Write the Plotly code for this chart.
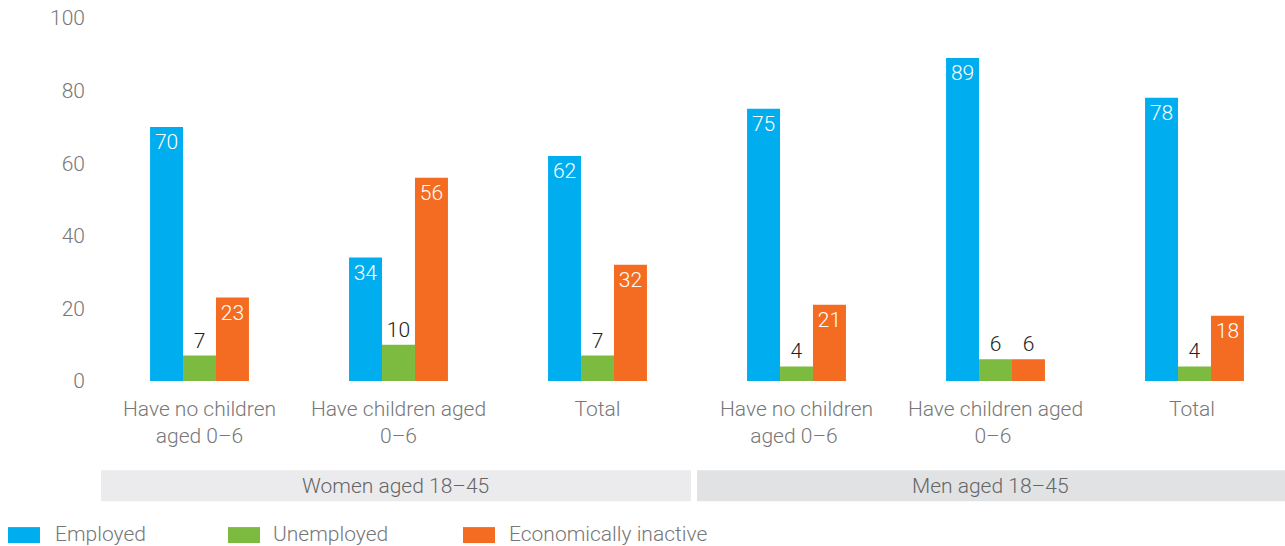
import plotly.graph_objects as go

# Categories and values (percent)
categories = ["Have no children<br>aged 0–6", "Have children aged<br>0–6", "Total",
              "Have no children<br>aged 0–6 ", "Have children aged<br>0–6 ", "Total "]
employed = [70, 34, 62, 75, 89, 78]
unemployed = [7, 10, 7, 4, 6, 4]
inactive = [23, 56, 32, 21, 6, 18]
series_names = ["Employed", "Unemployed", "Economically inactive"]
series_colors = ["#00AEEF", "#7CBB3F", "#F36C21"]
group_labels = ["Women aged 18–45", "Men aged 18–45"]
y_ticks = [0, 20, 40, 60, 80, 100]

W, H = 1285, 546
ML, MR, MT, MB = 100, 0, 17.5, 164.5
PW, PH = W - ML - MR, H - MT - MB
FONT = "Roboto"
CAT_PX = 199.0


def px_x(px):
    return (px - ML) / PW


def px_y(py):
    return (H - MB - py) / PH


fig = go.Figure()
for name, vals, col in zip(series_names, [employed, unemployed, inactive], series_colors):
    positions = ["inside" if v >= 15 else "outside" for v in vals]
    fig.add_trace(go.Bar(
        name=name, x=list(range(len(categories))), y=vals, marker_color=col,
        marker_line_width=0,
        text=[str(v) for v in vals], textposition=positions,
        insidetextanchor="end", textangle=0, constraintext="none",
        insidetextfont=dict(color="white", size=21, family=FONT, weight=300),
        outsidetextfont=dict(color="#222222", size=21, family=FONT, weight=300),
        cliponaxis=False, showlegend=False,
    ))

shapes = []
annotations = []
# Group boxes under the categories
boxes = [(101, 691, "#EBEBED"), (697, 1285, "#E1E2E4")]
for (x0, x1, fc), lab in zip(boxes, group_labels):
    shapes.append(dict(type="rect", xref="paper", yref="paper",
                       x0=px_x(x0), x1=px_x(x1), y0=px_y(502), y1=px_y(471),
                       fillcolor=fc, line_width=0, layer="below"))
    annotations.append(dict(xref="paper", yref="paper", x=px_x((x0 + x1) / 2 - 1), y=px_y(487),
                            text=lab, showarrow=False, xanchor="center", yanchor="middle",
                            font=dict(size=21, color="#666666", family=FONT, weight=300)))

# Legend row
legend_items = [(8, 53), (228, 271), (463, 507)]
for (sx, tx), name, col in zip(legend_items, series_names, series_colors):
    shapes.append(dict(type="rect", xref="paper", yref="paper",
                       x0=px_x(sx), x1=px_x(sx + 32), y0=px_y(544), y1=px_y(528),
                       fillcolor=col, line_width=0))
    annotations.append(dict(xref="paper", yref="paper", x=px_x(tx), y=px_y(535),
                            text=name, showarrow=False, xanchor="left", yanchor="middle",
                            font=dict(size=21, color="#777777", family=FONT, weight=300)))

fig.update_layout(
    width=W, height=H,
    margin=dict(l=ML, r=MR, t=MT, b=MB, pad=0),
    paper_bgcolor="white", plot_bgcolor="white",
    barmode="group", bargap=0.503, bargroupgap=0,
    font=dict(family=FONT, weight=300),
    shapes=shapes, annotations=annotations, showlegend=False,
    uniformtext=dict(mode=False),
)
fig.update_xaxes(
    range=[-0.5, -0.5 + PW / CAT_PX],
    tickmode="array", tickvals=list(range(len(categories))), ticktext=categories,
    showgrid=False, zeroline=False, showline=False, ticks="",
    tickfont=dict(size=21, color="#777777", family=FONT, weight=300),
    ticklabelstandoff=13,
)
fig.update_yaxes(
    range=[0, 100], tickvals=y_ticks, showgrid=False, zeroline=False, showline=False,
    ticks="", tickfont=dict(size=21, color="#777777", family=FONT, weight=300),
    ticklabelstandoff=14,
)

fig.write_html("out.html")
